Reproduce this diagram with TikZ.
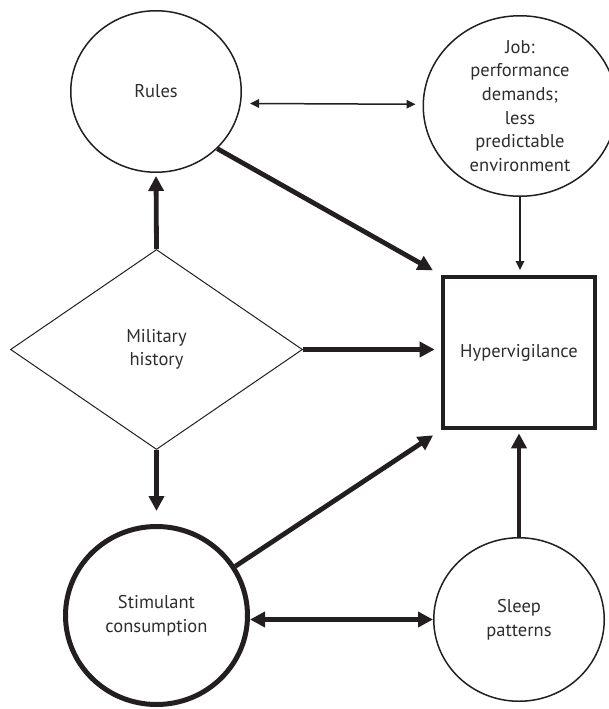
\documentclass[tikz,border=0pt]{standalone}
\usepackage{fontspec}
\setmainfont{PT Sans}
\usetikzlibrary{arrows.meta,shapes.geometric}
\definecolor{ink}{RGB}{35,31,32}
\definecolor{txt}{RGB}{45,45,45}
\begin{document}
\begin{tikzpicture}[x=1pt,y=-1pt,
  every node/.style={font=\fontsize{18.5}{23.6}\selectfont, text=txt, align=center, inner sep=0pt},
  thinring/.style={ellipse, draw=ink, line width=1.5pt},
  thickring/.style={ellipse, draw=ink, line width=5pt},
  decision/.style={diamond, draw=ink, line width=1pt, minimum width=292pt, minimum height=200pt},
  outcome/.style={rectangle, draw=ink, line width=4.7pt, minimum width=152pt, minimum height=151pt},
  thinarrow/.style={draw=ink, line width=1.5pt, -{Triangle[length=9pt,width=8.5pt]}},
  thinboth/.style={draw=ink, line width=1.5pt, {Triangle[length=9pt,width=8.5pt]}-{Triangle[length=9pt,width=8.5pt]}},
  thickarrow/.style={draw=ink, line width=4.8pt, -{Triangle[length=15pt,width=15pt]}},
  thickboth/.style={draw=ink, line width=4.6pt, {Triangle[length=15pt,width=15pt]}-{Triangle[length=15pt,width=15pt]}}
]
\useasboundingbox (0,0) rectangle (608,709);

% factors
\node[thinring, minimum width=170.5pt, minimum height=161.5pt] (rules) at (156,91.5) {Rules};
\node[thinring, minimum width=193.5pt, minimum height=180.5pt, inner sep=-12pt] (job) at (520,106)
  {Job:\\performance\\demands;\\less\\predictable\\environment};
\node[decision] (mil) at (156.5,349.5) {Military\\history};
\node[outcome] (hyp) at (519,352.5) {Hypervigilance};
\node[thickring, minimum width=182pt, minimum height=178pt] (stim) at (156.5,615.5) {Stimulant\\consumption};
\node[thinring, minimum width=170.5pt, minimum height=163.5pt] (sleep) at (519,619.5) {Sleep\\patterns};

% influences
\draw[thinboth, shorten <=9pt, shorten >=7pt] (rules.-8.6) -- (job.179);
\draw[thinarrow, shorten >=4.6pt] (job.south) -- (job.south |- hyp.north);
\draw[thickarrow, shorten >=3pt] (mil.north) -- (rules.south);
\draw[thickarrow, shorten >=6pt] (mil.east) -- (mil.east -| hyp.west);
\draw[thickarrow, shorten >=13pt] (mil.south) -- (mil.south |- stim.north);
\draw[thickarrow, shorten >=9pt] (rules.-43) -- (hyp.north west);
\draw[thickarrow, shorten >=9pt] (stim.32) -- (hyp.south west);
\draw[thickarrow, shorten >=3pt] (sleep.north) -- (sleep.north |- hyp.south);
\draw[thickboth] (stim.east |- sleep.west) -- (sleep.west);
\end{tikzpicture}
\end{document}
